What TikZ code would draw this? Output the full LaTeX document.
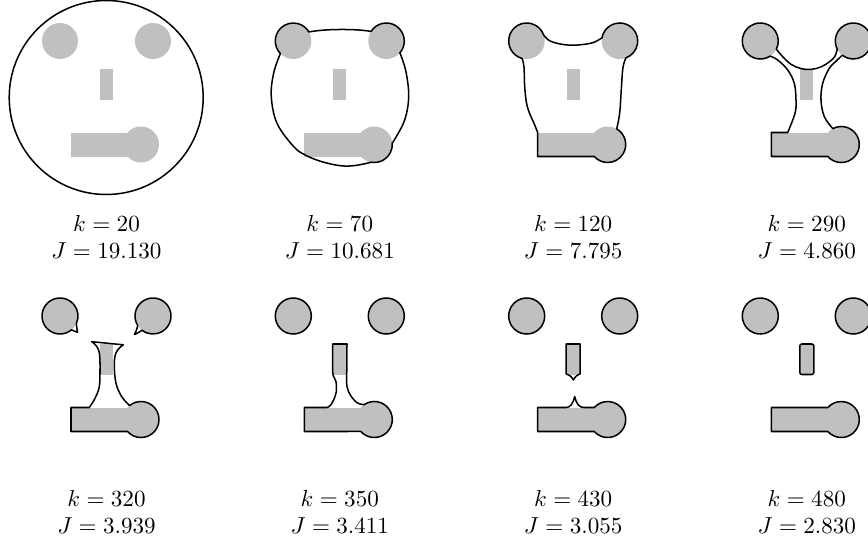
\documentclass[tikz,border=0pt]{standalone}
\definecolor{tgray}{RGB}{192,192,192}
\tikzset{
  gshape/.style={fill=tgray},
  cont/.style={draw=black, line width=0.68pt, line join=round, line cap=round},
  lab/.style={font=\normalsize, anchor=base, inner sep=0pt, scale=1.04, transform shape},
}
\newcommand\targetshapes{%
  \fill[gshape] (0,0) circle (18);
  \fill[gshape] (93,0) circle (18);
  \fill[gshape] (40,28) rectangle (53,58.5);
  \fill[gshape] (11,91.5) rectangle (81,115.5);
  \fill[gshape] (81,103.5) circle (18);
}
\begin{document}
\begin{tikzpicture}[x=0.45pt,y=-0.45pt]
\useasboundingbox (0,0) rectangle (868,546);
\fill[white] (0,0) rectangle (868,546);

% ---------- panel 1 : k=20
\begin{scope}[shift={(60,41)}]
  \targetshapes
  \draw[cont] (46.2,56.5) circle (97);
\end{scope}

% ---------- panel 2 : k=70
\begin{scope}[shift={(293.3,41)}]
  \targetshapes
  \draw[cont] (0,0) ++(136:18) arc[start angle=136,end angle=330,radius=18]
    .. controls (30,-12) and (62,-12.5) .. (77.74,-9.54)
    arc[start angle=212,end angle=401,radius=18]
    -- plot[smooth,tension=0.6] coordinates {(106.58,11.81) (112.5,30) (115.4,55.7) (111,80) (98.96,102.24)}
    arc[start angle=-4,end angle=100,radius=18]
    -- plot[smooth,tension=0.6] coordinates {(77.87,121.23) (62,124.5) (47,124.7) (28,120.5) (12,114) (0.3,105.5) (-16.3,82.3) (-22,55.7) (-19.7,32.3) (-12.95,12.50)};
\end{scope}

% ---------- panel 3 : k=120
\begin{scope}[shift={(526.7,41)}]
  \targetshapes
  \draw[cont] (0,0) ++(105:18) arc[start angle=105,end angle=341,radius=18]
    -- plot[smooth,tension=0.6] coordinates {(17.02,-5.86) (21,-1.5) (27.3,1.5) (37,3.6) (47.3,4.2) (60,3) (68,1) (75.27,-3.13)}
    arc[start angle=190,end angle=430,radius=18]
    -- plot[smooth,tension=0.6] coordinates {(99.16,16.91) (96.2,27) (94.5,50) (93,72) (90,87.91)}
    arc[start angle=-60,end angle=138.2,radius=18]
    -- (11,115.5) -- (11,91.5)
    -- plot[smooth,tension=0.6] coordinates {(11,91.5) (7.3,82.3) (0.6,65.7) (-2,45.7) (-2.7,26) (-4.66,17.39)};
\end{scope}

% ---------- panel 4 : k=290
\begin{scope}[shift={(760.3,41)}]
  \targetshapes
  \draw[cont] (0,0) ++(57:18) arc[start angle=57,end angle=387,radius=18]
    -- plot[smooth,tension=0.6] coordinates {(16.04,8.17) (22.4,15.7) (30.7,23.3) (40.7,27.6) (50.7,28.4) (60.7,25.9) (69,20.9) (74.5,15.5) (76.96,8.17)}
    arc[start angle=153,end angle=488,radius=18]
    -- plot[smooth,tension=0.6] coordinates {(81.92,14.18) (76,20) (69,27.3) (62.4,42.3) (60.7,59) (64,75.7) (72.55,87.61)}
    arc[start angle=242,end angle=498.2,radius=18]
    -- (11,115.5) -- (11,91.5) -- (27.4,91.5)
    -- plot[smooth,tension=0.6] coordinates {(27.4,91.5) (34.7,72.3) (35.7,59) (34,42.3) (27.4,29) (17.4,19) (9.80,15.10)};
\end{scope}

% ---------- panel 5 : k=320
\begin{scope}[shift={(60,316)}]
  \targetshapes
  \draw[cont] (0,0) ++(50:18) arc[start angle=50,end angle=385,radius=18]
    .. controls (16.8,11) and (17,13.5) .. (17.5,16.3)
    .. controls (15,15.3) and (13,14.6) .. (11.57,13.79);
  \draw[cont] (93,0) ++(148:18) arc[start angle=148,end angle=488,radius=18]
    .. controls (79,16.5) and (77,17.5) .. (74.5,18.5)
    .. controls (76,16) and (77,13) .. (77.74,9.54);
  \draw[cont] (31.7,25.7) -- (63.3,28.8)
    -- plot[smooth,tension=0.6] coordinates {(63.3,28.8) (58,33.5) (55,40) (54.3,50.7) (56,67.3) (61.7,80.7) (69.63,89.55)}
    arc[start angle=230.8,end angle=498.2,radius=18]
    -- (11,115.5) -- (11,91.5) -- (29.3,91.5)
    -- plot[smooth,tension=0.6] coordinates {(29.3,91.5) (35,82.3) (39.3,70.7) (40,54) (39.5,38) (36.5,30) (31.7,25.7)};
\end{scope}

% ---------- panel 6 : k=350
\begin{scope}[shift={(293.3,316)}]
  \targetshapes
  \draw[cont] (0,0) circle (18);
  \draw[cont] (93,0) circle (18);
  \draw[cont] (33.7,91.5)
    -- plot[smooth,tension=0.6] coordinates {(33.7,91.5) (37,89.5) (40.3,84) (43,75.7) (42.7,65.7) (40,60) (39.4,55)}
    -- (39.4,28) -- (53.7,28) -- (53.5,55)
    -- plot[smooth,tension=0.6] coordinates {(53.5,55) (53.3,62) (53.7,70.7) (57,79) (63.7,86.7) (70.83,88.64)}
    arc[start angle=235.6,end angle=498.2,radius=18]
    -- (11,115.5) -- (11,91.5) -- cycle;
\end{scope}

% ---------- panel 7 : k=430
\begin{scope}[shift={(526.7,316)}]
  \targetshapes
  \draw[cont] (0,0) circle (18);
  \draw[cont] (93,0) circle (18);
  \draw[cont] (46.7,64) .. controls (45,60.5) and (42,58.5) .. (39.5,57.8)
    -- (39.5,28) -- (53.5,28) -- (53.5,57.8)
    .. controls (51,58.5) and (48.4,60.5) .. (46.7,64) -- cycle;
  \draw[cont] (67.58,91.5) -- (57,91.5)
    .. controls (52.5,91.5) and (49.5,87.5) .. (48,80.5)
    .. controls (46.5,87.5) and (43.5,91.5) .. (39.5,91.5)
    -- (11,91.5) -- (11,115.5) -- (67.58,115.5)
    arc[start angle=138.2,end angle=-138.2,radius=18] -- cycle;
\end{scope}

% ---------- panel 8 : k=480
\begin{scope}[shift={(760.3,316)}]
  \targetshapes
  \draw[cont] (0,0) circle (18);
  \draw[cont] (93,0) circle (18);
  \draw[cont, rounded corners=0.9pt] (39.5,28) rectangle (53.5,58.5);
  \draw[cont] (67.58,91.5) -- (11,91.5) -- (11,115.5) -- (67.58,115.5)
    arc[start angle=138.2,end angle=-138.2,radius=18] -- cycle;
\end{scope}

% ---------- labels
\node[lab] (k1) at (106.5,231) {$k=20$};
\node[lab] (J1) at (106.5,258) {$J=19.130$};
\node[lab] (k2) at (339.8,231) {$k=70$};
\node[lab] (J2) at (339.8,258) {$J=10.681$};
\node[lab] (k3) at (573.2,231) {$k=120$};
\node[lab] (J3) at (573.2,258) {$J=7.795$};
\node[lab] (k4) at (806.8,231) {$k=290$};
\node[lab] (J4) at (806.8,258) {$J=4.860$};
\node[lab] (k5) at (106.5,506) {$k=320$};
\node[lab] (J5) at (106.5,533) {$J=3.939$};
\node[lab] (k6) at (339.8,506) {$k=350$};
\node[lab] (J6) at (339.8,533) {$J=3.411$};
\node[lab] (k7) at (573.2,506) {$k=430$};
\node[lab] (J7) at (573.2,533) {$J=3.055$};
\node[lab] (k8) at (806.8,506) {$k=480$};
\node[lab] (J8) at (806.8,533) {$J=2.830$};
\end{tikzpicture}
\end{document}
